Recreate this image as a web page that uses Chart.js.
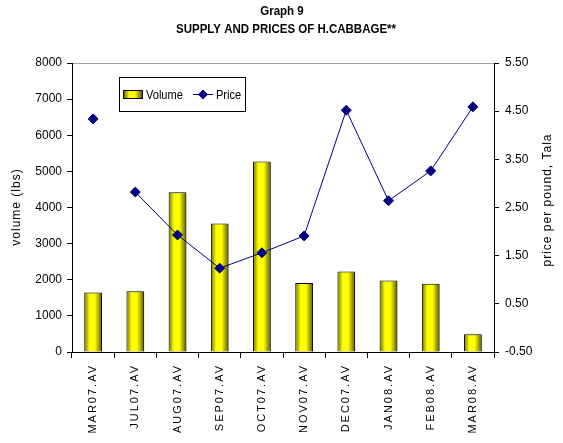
<!DOCTYPE html>
<html>
<head>
<meta charset="utf-8">
<script src="https://cdn.jsdelivr.net/npm/chart.js@4/dist/chart.umd.min.js"></script>
<style>
  html, body { margin: 0; padding: 0; background: #fff; }
  #wrap { width: 563px; height: 443px; }
</style>
</head>
<body>
<div id="wrap"><canvas id="grafico" width="563" height="443"></canvas></div>
<script>
// ====================== DATOS ======================
const meses   = ["MAR07.AV", "JUL07.AV", "AUG07.AV", "SEP07.AV", "OCT07.AV",
                 "NOV07.AV", "DEC07.AV", "JAN08.AV", "FEB08.AV", "MAR08.AV"];
const volumen = [1650, 1680, 4420, 3560, 5270, 1910, 2230, 1980, 1890, 490];
const precio  = [4.34, 2.82, 1.93, 1.24, 1.56, 1.91, 4.52, 2.64, 3.26, 4.59];
const ticksPrecio = [-0.5, 0.5, 1.5, 2.5, 3.5, 4.5, 5.5];

const tituloLineas = ["Graph 9", "SUPPLY AND PRICES OF H.CABBAGE**"];
const tituloIzq = "volume (lbs)";
const tituloDer = "price per pound, Tala";

const NAVY = "#000080";
const SANS = "'Liberation Sans', Arial, sans-serif";

// texto "angosto" (no hay Arial Narrow): se comprime en horizontal
function textoAngosto(ctx, txt, x, y, k) {
    ctx.save();
    ctx.translate(x, y);
    ctx.scale(k, 1);
    ctx.fillText(txt, 0, 0);
    ctx.restore();
}

function degradeBarra(ctx, x0, x1) {
    const g = ctx.createLinearGradient(x0, 0, x1, 0);
    g.addColorStop(0, "#6e6e00");
    g.addColorStop(0.3, "#ffff00");
    g.addColorStop(0.6, "#ffff00");
    g.addColorStop(1, "#5a5a00");
    return g;
}

// ====================== PLUGIN: barras, títulos, leyenda ======================
const extras = {
    id: "extras",
    beforeDatasetDraw(chart, args) {
        if (args.index !== 0) return;
        const ctx = chart.ctx;
        args.meta.data.forEach(el => {
            el.options.backgroundColor = degradeBarra(ctx, el.x - el.width / 2, el.x + el.width / 2);
        });
        ctx.save();
        ctx.shadowColor = "rgba(0,0,0,0.3)";
        ctx.shadowOffsetX = 2;
        ctx.shadowOffsetY = 1;
        ctx.shadowBlur = 0;
    },
    afterDatasetDraw(chart, args) {
        if (args.index === 0) chart.ctx.restore();
    },
    afterDraw(chart) {
        const ctx = chart.ctx;
        ctx.save();
        ctx.fillStyle = "#000";
        ctx.textAlign = "center";
        ctx.textBaseline = "middle";
        ctx.font = "bold 12.5px " + SANS;
        textoAngosto(ctx, tituloLineas[0], 282, 12, 0.92);
        textoAngosto(ctx, tituloLineas[1], 286, 30, 0.92);

        // títulos de ejes
        ctx.font = "12px " + SANS;
        ctx.letterSpacing = "1px";
        ctx.translate(17, 207);
        ctx.rotate(-Math.PI / 2);
        ctx.fillText(tituloIzq, 0, 0);
        ctx.setTransform(1, 0, 0, 1, 0, 0);
        ctx.translate(548, 200);
        ctx.rotate(-Math.PI / 2);
        ctx.fillText(tituloDer, 0, 0);
        ctx.setTransform(1, 0, 0, 1, 0, 0);
        ctx.letterSpacing = "0px";

        // leyenda
        const ds = chart.data.datasets;
        ctx.fillStyle = "#fff";
        ctx.fillRect(119.5, 77.5, 126, 34);
        ctx.strokeStyle = "#000";
        ctx.lineWidth = 1;
        ctx.strokeRect(119.5, 77.5, 126, 34);

        ctx.fillStyle = degradeBarra(ctx, 124, 142);
        ctx.fillRect(123.5, 90.5, 19, 8);
        ctx.strokeRect(123.5, 90.5, 19, 8);

        ctx.fillStyle = "#000";
        ctx.textAlign = "left";
        ctx.font = "13px " + SANS;
        textoAngosto(ctx, ds[0].label, 146, 95, 0.85);

        ctx.strokeStyle = NAVY;
        ctx.beginPath();
        ctx.moveTo(193, 94.5);
        ctx.lineTo(213, 94.5);
        ctx.stroke();
        ctx.fillStyle = NAVY;
        ctx.beginPath();
        ctx.moveTo(203, 89.5);
        ctx.lineTo(208, 94.5);
        ctx.lineTo(203, 99.5);
        ctx.lineTo(198, 94.5);
        ctx.closePath();
        ctx.fill();

        ctx.fillStyle = "#000";
        textoAngosto(ctx, ds[1].label, 216, 95, 0.85);
        ctx.restore();
    }
};

// ====================== GRÁFICO ======================
const ctx = document.getElementById("grafico").getContext("2d");
const grafico = new Chart(ctx, {
    type: "bar",
    data: {
        labels: meses,
        datasets: [
            {
                type: "bar",
                label: "Volume",
                data: volumen,
                yAxisID: "y",
                backgroundColor: () => "#ffff00",
                borderColor: "#000",
                borderWidth: 1,
                barPercentage: 0.42,
                categoryPercentage: 1,
                order: 2
            },
            {
                type: "line",
                label: "Price",
                data: precio,
                yAxisID: "y1",
                borderColor: NAVY,
                backgroundColor: NAVY,
                borderWidth: 1,
                pointStyle: "rectRot",
                pointRadius: 5,
                pointBackgroundColor: NAVY,
                pointBorderColor: NAVY,
                tension: 0,
                segment: {
                    borderColor: c => c.p0DataIndex === 0 ? "rgba(0,0,0,0)" : NAVY
                },
                order: 1
            }
        ]
    },
    options: {
        responsive: false,
        animation: false,
        layout: { padding: { top: 63, left: 0, right: 0, bottom: 0 } },
        plugins: {
            legend: { display: false },
            title: { display: false },
            tooltip: { enabled: false }
        },
        scales: {
            x: {
                offset: true,
                grid: { offset: true, drawOnChartArea: false, tickLength: 6, tickColor: "#000" },
                border: { color: "#000", width: 1 },
                ticks: {
                    minRotation: 90, maxRotation: 90, padding: 6,
                    color: "#000", font: { family: SANS, size: 11 }
                },
                afterFit(s) {
                    s.height = 91;
                    if (!s._espaciado) {
                        s._espaciado = true;
                        const orig = s.drawLabels.bind(s);
                        s.drawLabels = function (area) {
                            s.ctx.save();
                            s.ctx.letterSpacing = "2px";
                            orig(area);
                            s.ctx.restore();
                        };
                    }
                }
            },
            y: {
                position: "left",
                min: 0, max: 8000,
                ticks: {
                    stepSize: 1000, padding: 5, color: "#000",
                    font: { family: SANS, size: 12 },
                    callback: v => String(v)
                },
                grid: {
                    color: c => c.tick && c.tick.value === 8000 ? "#a0a0a0" : "rgba(0,0,0,0)",
                    tickColor: "#000", tickLength: 5
                },
                border: { color: "#000", width: 1 },
                afterFit(s) { s.width = 72; }
            },
            y1: {
                position: "right",
                min: -0.5, max: 5.5,
                afterBuildTicks(s) { s.ticks = ticksPrecio.map(v => ({ value: v })); },
                ticks: {
                    padding: 6, color: "#000", font: { family: SANS, size: 12 },
                    callback: v => Number(v).toFixed(2)
                },
                grid: { drawOnChartArea: false, tickColor: "#000", tickLength: 5 },
                border: { color: "#000", width: 1 },
                afterFit(s) { s.width = 69; }
            }
        }
    },
    plugins: [extras]
});
</script>
</body>
</html>
